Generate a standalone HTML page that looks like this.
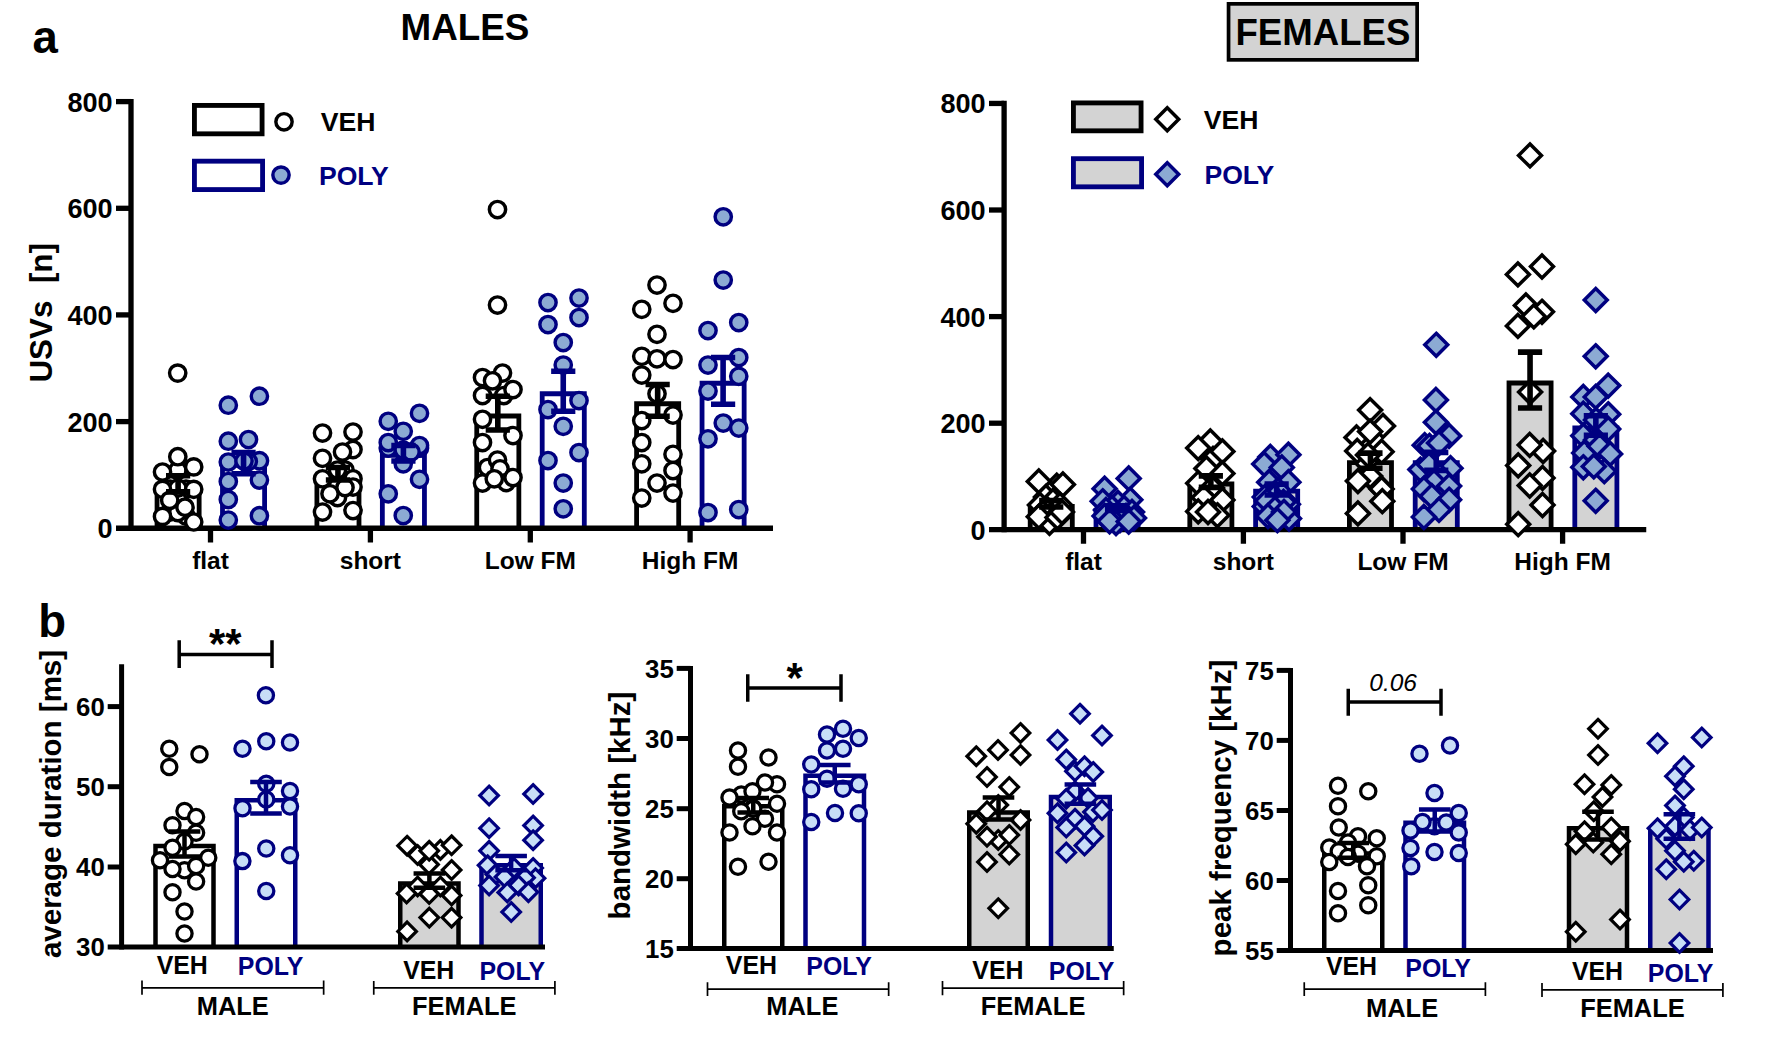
<!DOCTYPE html>
<html lang="en"><head><meta charset="utf-8"><title>USV figure</title>
<style>html,body{margin:0;padding:0;background:#fff;overflow:hidden}svg{display:block}text{font-family:"Liberation Sans", sans-serif}</style>
</head><body>
<svg width="1773" height="1045" viewBox="0 0 1773 1045">
<rect width="1773" height="1045" fill="#fff"/>
<g id="a-males">
<path d="M157.05 528.25 V486.2 H199.15 V528.25" fill="#fff" stroke="#000" stroke-width="4.8" stroke-linejoin="miter"/>
<path d="M222.5 528.25 V465.3 H264.6 V528.25" fill="#fff" stroke="#000080" stroke-width="4.8" stroke-linejoin="miter"/>
<path d="M316.9 528.25 V476.3 H359 V528.25" fill="#fff" stroke="#000" stroke-width="4.8" stroke-linejoin="miter"/>
<path d="M382.35 528.25 V455.3 H424.45 V528.25" fill="#fff" stroke="#000080" stroke-width="4.8" stroke-linejoin="miter"/>
<path d="M476.75 528.25 V416 H518.85 V528.25" fill="#fff" stroke="#000" stroke-width="4.8" stroke-linejoin="miter"/>
<path d="M542.2 528.25 V393.75 H584.3 V528.25" fill="#fff" stroke="#000080" stroke-width="4.8" stroke-linejoin="miter"/>
<path d="M636.6 528.25 V403.75 H678.7 V528.25" fill="#fff" stroke="#000" stroke-width="4.8" stroke-linejoin="miter"/>
<path d="M702.05 528.25 V383.25 H744.15 V528.25" fill="#fff" stroke="#000080" stroke-width="4.8" stroke-linejoin="miter"/>
<line x1="131" y1="98.95" x2="131" y2="530.9" stroke="#000" stroke-width="5.3"/>
<line x1="116" y1="528.25" x2="773" y2="528.25" stroke="#000" stroke-width="5.3"/>
<line x1="116" y1="101.6" x2="131" y2="101.6" stroke="#000" stroke-width="5.3"/>
<text x="112.7" y="111.6" font-size="27.1" fill="#000" text-anchor="end" font-weight="bold">800</text>
<line x1="116" y1="208.3" x2="131" y2="208.3" stroke="#000" stroke-width="5.3"/>
<text x="112.7" y="218.3" font-size="27.1" fill="#000" text-anchor="end" font-weight="bold">600</text>
<line x1="116" y1="314.9" x2="131" y2="314.9" stroke="#000" stroke-width="5.3"/>
<text x="112.7" y="324.9" font-size="27.1" fill="#000" text-anchor="end" font-weight="bold">400</text>
<line x1="116" y1="421.6" x2="131" y2="421.6" stroke="#000" stroke-width="5.3"/>
<text x="112.7" y="431.6" font-size="27.1" fill="#000" text-anchor="end" font-weight="bold">200</text>
<text x="112.7" y="538.25" font-size="27.1" fill="#000" text-anchor="end" font-weight="bold">0</text>
<line x1="210.5" y1="528.25" x2="210.5" y2="542.5" stroke="#000" stroke-width="5.3"/>
<text x="210.5" y="568.75" font-size="24.5" fill="#000" text-anchor="middle" font-weight="bold">flat</text>
<line x1="370.4" y1="528.25" x2="370.4" y2="542.5" stroke="#000" stroke-width="5.3"/>
<text x="370.4" y="568.75" font-size="24.5" fill="#000" text-anchor="middle" font-weight="bold">short</text>
<line x1="530.3" y1="528.25" x2="530.3" y2="542.5" stroke="#000" stroke-width="5.3"/>
<text x="530.3" y="568.75" font-size="24.5" fill="#000" text-anchor="middle" font-weight="bold">Low FM</text>
<line x1="690.1" y1="528.25" x2="690.1" y2="542.5" stroke="#000" stroke-width="5.3"/>
<text x="690.1" y="568.75" font-size="24.5" fill="#000" text-anchor="middle" font-weight="bold">High FM</text>
<g fill="#fff" stroke="#000" stroke-width="3.45">
<circle cx="170" cy="489" r="8.15"/>
<circle cx="186" cy="489" r="8.15"/>
<circle cx="178" cy="500" r="8.15"/>
<circle cx="170" cy="512" r="8.15"/>
<circle cx="186" cy="516" r="8.15"/>
<circle cx="177.8" cy="512.5" r="8.15"/>
<circle cx="162.5" cy="516.4" r="8.15"/>
<circle cx="177.8" cy="488" r="8.15"/>
<circle cx="162.5" cy="489.3" r="8.15"/>
<circle cx="193.7" cy="489.3" r="8.15"/>
<circle cx="177.8" cy="470.4" r="8.15"/>
<circle cx="162.5" cy="472" r="8.15"/>
<circle cx="193.7" cy="466.9" r="8.15"/>
<circle cx="177.8" cy="456.7" r="8.15"/>
<circle cx="169.7" cy="500.3" r="8.15"/>
<circle cx="185" cy="507.2" r="8.15"/>
<circle cx="193.7" cy="522" r="8.15"/>
<circle cx="177.7" cy="373.1" r="8.15"/>
</g>
<g fill="#8caad3" stroke="#000080" stroke-width="3.45">
<circle cx="228.3" cy="405.2" r="8.15"/>
<circle cx="259.4" cy="396.2" r="8.15"/>
<circle cx="228.3" cy="441.2" r="8.15"/>
<circle cx="248.5" cy="439.5" r="8.15"/>
<circle cx="259.5" cy="460.7" r="8.15"/>
<circle cx="228.3" cy="462" r="8.15"/>
<circle cx="248.3" cy="461.5" r="8.15"/>
<circle cx="228.3" cy="481.5" r="8.15"/>
<circle cx="259.4" cy="480" r="8.15"/>
<circle cx="228.3" cy="499.5" r="8.15"/>
<circle cx="259.4" cy="515.7" r="8.15"/>
<circle cx="228.3" cy="520" r="8.15"/>
<circle cx="244" cy="461" r="8.15"/>
</g>
<g fill="#fff" stroke="#000" stroke-width="3.45">
<circle cx="337.5" cy="478" r="8.15"/>
<circle cx="330" cy="481" r="8.15"/>
<circle cx="345" cy="470" r="8.15"/>
<circle cx="337.5" cy="486" r="8.15"/>
<circle cx="322.5" cy="433" r="8.15"/>
<circle cx="353" cy="432" r="8.15"/>
<circle cx="353" cy="449.5" r="8.15"/>
<circle cx="342.5" cy="452" r="8.15"/>
<circle cx="322.5" cy="458.25" r="8.15"/>
<circle cx="337.5" cy="470" r="8.15"/>
<circle cx="322.5" cy="478.75" r="8.15"/>
<circle cx="353" cy="478.75" r="8.15"/>
<circle cx="353" cy="487" r="8.15"/>
<circle cx="337.5" cy="497.5" r="8.15"/>
<circle cx="345" cy="487.5" r="8.15"/>
<circle cx="330" cy="493.75" r="8.15"/>
<circle cx="322.5" cy="512" r="8.15"/>
<circle cx="353" cy="510.5" r="8.15"/>
</g>
<g fill="#8caad3" stroke="#000080" stroke-width="3.45">
<circle cx="388.25" cy="421.25" r="8.15"/>
<circle cx="419.5" cy="413.25" r="8.15"/>
<circle cx="403.25" cy="431.25" r="8.15"/>
<circle cx="388.25" cy="448" r="8.15"/>
<circle cx="419.5" cy="448" r="8.15"/>
<circle cx="388.25" cy="442.5" r="8.15"/>
<circle cx="419.5" cy="445.5" r="8.15"/>
<circle cx="403.25" cy="463.75" r="8.15"/>
<circle cx="403.25" cy="450" r="8.15"/>
<circle cx="419.5" cy="479.25" r="8.15"/>
<circle cx="388.25" cy="493.75" r="8.15"/>
<circle cx="403.25" cy="515.5" r="8.15"/>
<circle cx="411" cy="452" r="8.15"/>
</g>
<g fill="#fff" stroke="#000" stroke-width="3.45">
<circle cx="497.5" cy="209.5" r="8.15"/>
<circle cx="497.5" cy="305" r="8.15"/>
<circle cx="482.5" cy="377.5" r="8.15"/>
<circle cx="502.5" cy="373" r="8.15"/>
<circle cx="492.5" cy="380.75" r="8.15"/>
<circle cx="503.75" cy="395.5" r="8.15"/>
<circle cx="513" cy="389.5" r="8.15"/>
<circle cx="482.5" cy="395.5" r="8.15"/>
<circle cx="482.5" cy="419.25" r="8.15"/>
<circle cx="513" cy="435.5" r="8.15"/>
<circle cx="482.5" cy="442.5" r="8.15"/>
<circle cx="487.5" cy="467.5" r="8.15"/>
<circle cx="497.5" cy="460" r="8.15"/>
<circle cx="500" cy="468.75" r="8.15"/>
<circle cx="506.25" cy="482.5" r="8.15"/>
<circle cx="482.5" cy="483" r="8.15"/>
<circle cx="513" cy="477.5" r="8.15"/>
<circle cx="494.25" cy="478.75" r="8.15"/>
</g>
<g fill="#8caad3" stroke="#000080" stroke-width="3.45">
<circle cx="548" cy="302.5" r="8.15"/>
<circle cx="579" cy="298" r="8.15"/>
<circle cx="548" cy="324.5" r="8.15"/>
<circle cx="579" cy="317.5" r="8.15"/>
<circle cx="563.25" cy="342.5" r="8.15"/>
<circle cx="563.25" cy="365" r="8.15"/>
<circle cx="579" cy="400.5" r="8.15"/>
<circle cx="548" cy="409.5" r="8.15"/>
<circle cx="563.25" cy="426.25" r="8.15"/>
<circle cx="579" cy="452.5" r="8.15"/>
<circle cx="548" cy="460.5" r="8.15"/>
<circle cx="563.25" cy="483" r="8.15"/>
<circle cx="563.25" cy="508.75" r="8.15"/>
</g>
<g fill="#fff" stroke="#000" stroke-width="3.45">
<circle cx="657" cy="285" r="8.15"/>
<circle cx="673" cy="303.25" r="8.15"/>
<circle cx="641.75" cy="309.25" r="8.15"/>
<circle cx="657" cy="334.25" r="8.15"/>
<circle cx="641.75" cy="356.25" r="8.15"/>
<circle cx="657" cy="358.75" r="8.15"/>
<circle cx="673" cy="359.5" r="8.15"/>
<circle cx="641.75" cy="375" r="8.15"/>
<circle cx="657" cy="393.75" r="8.15"/>
<circle cx="673" cy="415" r="8.15"/>
<circle cx="641.75" cy="420.5" r="8.15"/>
<circle cx="641.75" cy="442.5" r="8.15"/>
<circle cx="673" cy="454.25" r="8.15"/>
<circle cx="641.75" cy="463.75" r="8.15"/>
<circle cx="673" cy="470.5" r="8.15"/>
<circle cx="657" cy="483" r="8.15"/>
<circle cx="673" cy="493" r="8.15"/>
<circle cx="641.75" cy="498" r="8.15"/>
</g>
<g fill="#8caad3" stroke="#000080" stroke-width="3.45">
<circle cx="723.25" cy="216.75" r="8.15"/>
<circle cx="723.25" cy="280" r="8.15"/>
<circle cx="738.75" cy="322.5" r="8.15"/>
<circle cx="708" cy="330.5" r="8.15"/>
<circle cx="738.75" cy="357.5" r="8.15"/>
<circle cx="708" cy="365" r="8.15"/>
<circle cx="738.75" cy="376.25" r="8.15"/>
<circle cx="708" cy="391" r="8.15"/>
<circle cx="723.25" cy="423" r="8.15"/>
<circle cx="738.75" cy="428" r="8.15"/>
<circle cx="708" cy="438.75" r="8.15"/>
<circle cx="708" cy="512.5" r="8.15"/>
<circle cx="738.75" cy="509.5" r="8.15"/>
</g>
<path d="M178.1 475.8 V491.9 M166 475.8 H190.2 M166 491.9 H190.2" fill="none" stroke="#000" stroke-width="5.6"/>
<path d="M243.55 452.5 V473.75 M231.45 452.5 H255.65 M231.45 473.75 H255.65" fill="none" stroke="#000080" stroke-width="5.6"/>
<path d="M337.95 467.5 V480 M325.85 467.5 H350.05 M325.85 480 H350.05" fill="none" stroke="#000" stroke-width="5.6"/>
<path d="M403.4 445.5 V461 M391.3 445.5 H415.5 M391.3 461 H415.5" fill="none" stroke="#000080" stroke-width="5.6"/>
<path d="M497.8 396.25 V430 M485.7 396.25 H509.9 M485.7 430 H509.9" fill="none" stroke="#000" stroke-width="5.6"/>
<path d="M563.25 371.25 V411.25 M551.15 371.25 H575.35 M551.15 411.25 H575.35" fill="none" stroke="#000080" stroke-width="5.6"/>
<path d="M657.65 384.5 V416.25 M645.55 384.5 H669.75 M645.55 416.25 H669.75" fill="none" stroke="#000" stroke-width="5.6"/>
<path d="M723.1 357.5 V404.25 M711 357.5 H735.2 M711 404.25 H735.2" fill="none" stroke="#000080" stroke-width="5.6"/>
<rect x="194.43" y="105.42" width="67.65" height="28.4" fill="#fff" stroke="#000" stroke-width="4.85"/>
<g fill="#fff" stroke="#000" stroke-width="3.45">
<circle cx="284" cy="121.75" r="8.15"/>
</g>
<text x="320.8" y="130.5" font-size="26.6" fill="#000" text-anchor="start" font-weight="bold">VEH</text>
<rect x="194.43" y="161.18" width="68.15" height="28.4" fill="#fff" stroke="#000080" stroke-width="4.85"/>
<g fill="#8caad3" stroke="#000080" stroke-width="3.45">
<circle cx="281" cy="175.1" r="8.15"/>
</g>
<text x="318.9" y="184.5" font-size="26.6" fill="#000080" text-anchor="start" font-weight="bold">POLY</text>
</g>
<g id="a-females">
<path d="M1030.2 529.6 V506.3 H1072.3 V529.6" fill="#d3d3d3" stroke="#000" stroke-width="4.8" stroke-linejoin="miter"/>
<path d="M1096 529.6 V510.5 H1138.1 V529.6" fill="#d3d3d3" stroke="#000080" stroke-width="4.8" stroke-linejoin="miter"/>
<path d="M1189.8 529.6 V484 H1231.9 V529.6" fill="#d3d3d3" stroke="#000" stroke-width="4.8" stroke-linejoin="miter"/>
<path d="M1255.6 529.6 V491.2 H1297.7 V529.6" fill="#d3d3d3" stroke="#000080" stroke-width="4.8" stroke-linejoin="miter"/>
<path d="M1349.4 529.6 V462.7 H1391.5 V529.6" fill="#d3d3d3" stroke="#000" stroke-width="4.8" stroke-linejoin="miter"/>
<path d="M1415.2 529.6 V462.7 H1457.3 V529.6" fill="#d3d3d3" stroke="#000080" stroke-width="4.8" stroke-linejoin="miter"/>
<path d="M1509 529.6 V383 H1551.1 V529.6" fill="#d3d3d3" stroke="#000" stroke-width="4.8" stroke-linejoin="miter"/>
<path d="M1574.8 529.6 V428 H1616.9 V529.6" fill="#d3d3d3" stroke="#000080" stroke-width="4.8" stroke-linejoin="miter"/>
<line x1="1004.1" y1="100.8" x2="1004.1" y2="532.25" stroke="#000" stroke-width="5.3"/>
<line x1="989" y1="529.6" x2="1646.25" y2="529.6" stroke="#000" stroke-width="5.3"/>
<line x1="989" y1="103.45" x2="1004.1" y2="103.45" stroke="#000" stroke-width="5.3"/>
<text x="985.7" y="113.45" font-size="27.1" fill="#000" text-anchor="end" font-weight="bold">800</text>
<line x1="989" y1="210" x2="1004.1" y2="210" stroke="#000" stroke-width="5.3"/>
<text x="985.7" y="220" font-size="27.1" fill="#000" text-anchor="end" font-weight="bold">600</text>
<line x1="989" y1="316.6" x2="1004.1" y2="316.6" stroke="#000" stroke-width="5.3"/>
<text x="985.7" y="326.6" font-size="27.1" fill="#000" text-anchor="end" font-weight="bold">400</text>
<line x1="989" y1="423.2" x2="1004.1" y2="423.2" stroke="#000" stroke-width="5.3"/>
<text x="985.7" y="433.2" font-size="27.1" fill="#000" text-anchor="end" font-weight="bold">200</text>
<text x="985.7" y="539.75" font-size="27.1" fill="#000" text-anchor="end" font-weight="bold">0</text>
<line x1="1083.5" y1="529.6" x2="1083.5" y2="543.75" stroke="#000" stroke-width="5.3"/>
<text x="1083.5" y="570" font-size="24.5" fill="#000" text-anchor="middle" font-weight="bold">flat</text>
<line x1="1243.4" y1="529.6" x2="1243.4" y2="543.75" stroke="#000" stroke-width="5.3"/>
<text x="1243.4" y="570" font-size="24.5" fill="#000" text-anchor="middle" font-weight="bold">short</text>
<line x1="1403" y1="529.6" x2="1403" y2="543.75" stroke="#000" stroke-width="5.3"/>
<text x="1403" y="570" font-size="24.5" fill="#000" text-anchor="middle" font-weight="bold">Low FM</text>
<line x1="1562.6" y1="529.6" x2="1562.6" y2="543.75" stroke="#000" stroke-width="5.3"/>
<text x="1562.6" y="570" font-size="24.5" fill="#000" text-anchor="middle" font-weight="bold">High FM</text>
<g fill="#fff" stroke="#000" stroke-width="3.5" stroke-linejoin="miter">
<path d="M1056.75 474.2 l11.45 11.45 l-11.45 11.45 l-11.45 -11.45 z"/>
<path d="M1038.8 469.95 l11.45 11.45 l-11.45 11.45 l-11.45 -11.45 z"/>
<path d="M1062.9 473.05 l11.45 11.45 l-11.45 11.45 l-11.45 -11.45 z"/>
<path d="M1046 485.55 l11.45 11.45 l-11.45 11.45 l-11.45 -11.45 z"/>
<path d="M1053 489.55 l11.45 11.45 l-11.45 11.45 l-11.45 -11.45 z"/>
<path d="M1040 493.55 l11.45 11.45 l-11.45 11.45 l-11.45 -11.45 z"/>
<path d="M1060 493.55 l11.45 11.45 l-11.45 11.45 l-11.45 -11.45 z"/>
<path d="M1047 497.55 l11.45 11.45 l-11.45 11.45 l-11.45 -11.45 z"/>
<path d="M1055 499.55 l11.45 11.45 l-11.45 11.45 l-11.45 -11.45 z"/>
<path d="M1043 501.55 l11.45 11.45 l-11.45 11.45 l-11.45 -11.45 z"/>
<path d="M1049.5 511.35 l11.45 11.45 l-11.45 11.45 l-11.45 -11.45 z"/>
<path d="M1038.8 505.25 l11.45 11.45 l-11.45 11.45 l-11.45 -11.45 z"/>
<path d="M1057.5 505.95 l11.45 11.45 l-11.45 11.45 l-11.45 -11.45 z"/>
<path d="M1062 500.55 l11.45 11.45 l-11.45 11.45 l-11.45 -11.45 z"/>
</g>
<g fill="#8caad3" stroke="#000080" stroke-width="3.5" stroke-linejoin="miter">
<path d="M1128.7 466.95 l11.45 11.45 l-11.45 11.45 l-11.45 -11.45 z"/>
<path d="M1104.6 477.25 l11.45 11.45 l-11.45 11.45 l-11.45 -11.45 z"/>
<path d="M1130.3 488.35 l11.45 11.45 l-11.45 11.45 l-11.45 -11.45 z"/>
<path d="M1102.7 489.85 l11.45 11.45 l-11.45 11.45 l-11.45 -11.45 z"/>
<path d="M1118 491.55 l11.45 11.45 l-11.45 11.45 l-11.45 -11.45 z"/>
<path d="M1112 496.55 l11.45 11.45 l-11.45 11.45 l-11.45 -11.45 z"/>
<path d="M1124 496.55 l11.45 11.45 l-11.45 11.45 l-11.45 -11.45 z"/>
<path d="M1106 498.55 l11.45 11.45 l-11.45 11.45 l-11.45 -11.45 z"/>
<path d="M1118 502.55 l11.45 11.45 l-11.45 11.45 l-11.45 -11.45 z"/>
<path d="M1132 500.55 l11.45 11.45 l-11.45 11.45 l-11.45 -11.45 z"/>
<path d="M1126 504.55 l11.45 11.45 l-11.45 11.45 l-11.45 -11.45 z"/>
<path d="M1112 505.55 l11.45 11.45 l-11.45 11.45 l-11.45 -11.45 z"/>
<path d="M1104.6 504.55 l11.45 11.45 l-11.45 11.45 l-11.45 -11.45 z"/>
<path d="M1120 508.55 l11.45 11.45 l-11.45 11.45 l-11.45 -11.45 z"/>
<path d="M1134 506.55 l11.45 11.45 l-11.45 11.45 l-11.45 -11.45 z"/>
<path d="M1116 511.55 l11.45 11.45 l-11.45 11.45 l-11.45 -11.45 z"/>
<path d="M1109.6 509.85 l11.45 11.45 l-11.45 11.45 l-11.45 -11.45 z"/>
<path d="M1128.7 510.05 l11.45 11.45 l-11.45 11.45 l-11.45 -11.45 z"/>
</g>
<g fill="#fff" stroke="#000" stroke-width="3.5" stroke-linejoin="miter">
<path d="M1210.3 430.05 l11.45 11.45 l-11.45 11.45 l-11.45 -11.45 z"/>
<path d="M1198.2 436.65 l11.45 11.45 l-11.45 11.45 l-11.45 -11.45 z"/>
<path d="M1213 447.55 l11.45 11.45 l-11.45 11.45 l-11.45 -11.45 z"/>
<path d="M1222.4 439.95 l11.45 11.45 l-11.45 11.45 l-11.45 -11.45 z"/>
<path d="M1206.4 457.05 l11.45 11.45 l-11.45 11.45 l-11.45 -11.45 z"/>
<path d="M1222.4 461.95 l11.45 11.45 l-11.45 11.45 l-11.45 -11.45 z"/>
<path d="M1198.2 471.85 l11.45 11.45 l-11.45 11.45 l-11.45 -11.45 z"/>
<path d="M1212 476.55 l11.45 11.45 l-11.45 11.45 l-11.45 -11.45 z"/>
<path d="M1212 494.55 l11.45 11.45 l-11.45 11.45 l-11.45 -11.45 z"/>
<path d="M1203.7 486.15 l11.45 11.45 l-11.45 11.45 l-11.45 -11.45 z"/>
<path d="M1222.4 488.45 l11.45 11.45 l-11.45 11.45 l-11.45 -11.45 z"/>
<path d="M1198.2 499.95 l11.45 11.45 l-11.45 11.45 l-11.45 -11.45 z"/>
<path d="M1217.4 503.85 l11.45 11.45 l-11.45 11.45 l-11.45 -11.45 z"/>
<path d="M1208 500.55 l11.45 11.45 l-11.45 11.45 l-11.45 -11.45 z"/>
</g>
<g fill="#8caad3" stroke="#000080" stroke-width="3.5" stroke-linejoin="miter">
<path d="M1270.3 445.45 l11.45 11.45 l-11.45 11.45 l-11.45 -11.45 z"/>
<path d="M1288.4 443.25 l11.45 11.45 l-11.45 11.45 l-11.45 -11.45 z"/>
<path d="M1264.2 452.65 l11.45 11.45 l-11.45 11.45 l-11.45 -11.45 z"/>
<path d="M1281.8 455.95 l11.45 11.45 l-11.45 11.45 l-11.45 -11.45 z"/>
<path d="M1288.4 470.75 l11.45 11.45 l-11.45 11.45 l-11.45 -11.45 z"/>
<path d="M1269.2 470.75 l11.45 11.45 l-11.45 11.45 l-11.45 -11.45 z"/>
<path d="M1278 478.55 l11.45 11.45 l-11.45 11.45 l-11.45 -11.45 z"/>
<path d="M1264.8 485.65 l11.45 11.45 l-11.45 11.45 l-11.45 -11.45 z"/>
<path d="M1287.9 492.85 l11.45 11.45 l-11.45 11.45 l-11.45 -11.45 z"/>
<path d="M1264.8 495.05 l11.45 11.45 l-11.45 11.45 l-11.45 -11.45 z"/>
<path d="M1274 485.55 l11.45 11.45 l-11.45 11.45 l-11.45 -11.45 z"/>
<path d="M1267 489.55 l11.45 11.45 l-11.45 11.45 l-11.45 -11.45 z"/>
<path d="M1283.5 490.55 l11.45 11.45 l-11.45 11.45 l-11.45 -11.45 z"/>
<path d="M1275 497.55 l11.45 11.45 l-11.45 11.45 l-11.45 -11.45 z"/>
<path d="M1289 507.15 l11.45 11.45 l-11.45 11.45 l-11.45 -11.45 z"/>
<path d="M1268 504.55 l11.45 11.45 l-11.45 11.45 l-11.45 -11.45 z"/>
<path d="M1284 500.55 l11.45 11.45 l-11.45 11.45 l-11.45 -11.45 z"/>
<path d="M1277.4 508.75 l11.45 11.45 l-11.45 11.45 l-11.45 -11.45 z"/>
</g>
<g fill="#fff" stroke="#000" stroke-width="3.5" stroke-linejoin="miter">
<path d="M1366 450.55 l11.45 11.45 l-11.45 11.45 l-11.45 -11.45 z"/>
<path d="M1370.1 398.65 l11.45 11.45 l-11.45 11.45 l-11.45 -11.45 z"/>
<path d="M1383 414.45 l11.45 11.45 l-11.45 11.45 l-11.45 -11.45 z"/>
<path d="M1356.5 425.95 l11.45 11.45 l-11.45 11.45 l-11.45 -11.45 z"/>
<path d="M1370.1 420.15 l11.45 11.45 l-11.45 11.45 l-11.45 -11.45 z"/>
<path d="M1357.2 439.55 l11.45 11.45 l-11.45 11.45 l-11.45 -11.45 z"/>
<path d="M1381.6 440.25 l11.45 11.45 l-11.45 11.45 l-11.45 -11.45 z"/>
<path d="M1368 443.55 l11.45 11.45 l-11.45 11.45 l-11.45 -11.45 z"/>
<path d="M1376 471.55 l11.45 11.45 l-11.45 11.45 l-11.45 -11.45 z"/>
<path d="M1370.1 464.65 l11.45 11.45 l-11.45 11.45 l-11.45 -11.45 z"/>
<path d="M1357.9 469.65 l11.45 11.45 l-11.45 11.45 l-11.45 -11.45 z"/>
<path d="M1381.6 477.55 l11.45 11.45 l-11.45 11.45 l-11.45 -11.45 z"/>
<path d="M1382.3 489.75 l11.45 11.45 l-11.45 11.45 l-11.45 -11.45 z"/>
<path d="M1357.9 501.95 l11.45 11.45 l-11.45 11.45 l-11.45 -11.45 z"/>
</g>
<g fill="#8caad3" stroke="#000080" stroke-width="3.5" stroke-linejoin="miter">
<path d="M1436.25 333.35 l11.45 11.45 l-11.45 11.45 l-11.45 -11.45 z"/>
<path d="M1435.9 388.55 l11.45 11.45 l-11.45 11.45 l-11.45 -11.45 z"/>
<path d="M1435.9 410.85 l11.45 11.45 l-11.45 11.45 l-11.45 -11.45 z"/>
<path d="M1449.1 424.45 l11.45 11.45 l-11.45 11.45 l-11.45 -11.45 z"/>
<path d="M1424.7 433.75 l11.45 11.45 l-11.45 11.45 l-11.45 -11.45 z"/>
<path d="M1429.5 434.55 l11.45 11.45 l-11.45 11.45 l-11.45 -11.45 z"/>
<path d="M1439 431.65 l11.45 11.45 l-11.45 11.45 l-11.45 -11.45 z"/>
<path d="M1420.4 458.15 l11.45 11.45 l-11.45 11.45 l-11.45 -11.45 z"/>
<path d="M1429 453.15 l11.45 11.45 l-11.45 11.45 l-11.45 -11.45 z"/>
<path d="M1450.5 456.75 l11.45 11.45 l-11.45 11.45 l-11.45 -11.45 z"/>
<path d="M1440 464.55 l11.45 11.45 l-11.45 11.45 l-11.45 -11.45 z"/>
<path d="M1434 470.55 l11.45 11.45 l-11.45 11.45 l-11.45 -11.45 z"/>
<path d="M1423.9 477.55 l11.45 11.45 l-11.45 11.45 l-11.45 -11.45 z"/>
<path d="M1449.1 474.65 l11.45 11.45 l-11.45 11.45 l-11.45 -11.45 z"/>
<path d="M1431.8 484.75 l11.45 11.45 l-11.45 11.45 l-11.45 -11.45 z"/>
<path d="M1449.1 488.35 l11.45 11.45 l-11.45 11.45 l-11.45 -11.45 z"/>
<path d="M1439 498.35 l11.45 11.45 l-11.45 11.45 l-11.45 -11.45 z"/>
<path d="M1423.9 505.55 l11.45 11.45 l-11.45 11.45 l-11.45 -11.45 z"/>
</g>
<g fill="#fff" stroke="#000" stroke-width="3.5" stroke-linejoin="miter">
<path d="M1530 143.95 l11.45 11.45 l-11.45 11.45 l-11.45 -11.45 z"/>
<path d="M1542 255.05 l11.45 11.45 l-11.45 11.45 l-11.45 -11.45 z"/>
<path d="M1517.9 262.95 l11.45 11.45 l-11.45 11.45 l-11.45 -11.45 z"/>
<path d="M1525.9 294.05 l11.45 11.45 l-11.45 11.45 l-11.45 -11.45 z"/>
<path d="M1542 300.35 l11.45 11.45 l-11.45 11.45 l-11.45 -11.45 z"/>
<path d="M1517.9 314.45 l11.45 11.45 l-11.45 11.45 l-11.45 -11.45 z"/>
<path d="M1533.8 304.95 l11.45 11.45 l-11.45 11.45 l-11.45 -11.45 z"/>
<path d="M1530.1 380.65 l11.45 11.45 l-11.45 11.45 l-11.45 -11.45 z"/>
<path d="M1543.1 439.55 l11.45 11.45 l-11.45 11.45 l-11.45 -11.45 z"/>
<path d="M1529.7 433.45 l11.45 11.45 l-11.45 11.45 l-11.45 -11.45 z"/>
<path d="M1518.2 453.95 l11.45 11.45 l-11.45 11.45 l-11.45 -11.45 z"/>
<path d="M1542.5 466.45 l11.45 11.45 l-11.45 11.45 l-11.45 -11.45 z"/>
<path d="M1529.7 474.05 l11.45 11.45 l-11.45 11.45 l-11.45 -11.45 z"/>
<path d="M1542.5 493.55 l11.45 11.45 l-11.45 11.45 l-11.45 -11.45 z"/>
<path d="M1518.2 512.75 l11.45 11.45 l-11.45 11.45 l-11.45 -11.45 z"/>
</g>
<g fill="#8caad3" stroke="#000080" stroke-width="3.5" stroke-linejoin="miter">
<path d="M1595.75 288.55 l11.45 11.45 l-11.45 11.45 l-11.45 -11.45 z"/>
<path d="M1595.7 344.85 l11.45 11.45 l-11.45 11.45 l-11.45 -11.45 z"/>
<path d="M1608.2 374.15 l11.45 11.45 l-11.45 11.45 l-11.45 -11.45 z"/>
<path d="M1583.3 385.45 l11.45 11.45 l-11.45 11.45 l-11.45 -11.45 z"/>
<path d="M1595.7 385.45 l11.45 11.45 l-11.45 11.45 l-11.45 -11.45 z"/>
<path d="M1583.3 402.25 l11.45 11.45 l-11.45 11.45 l-11.45 -11.45 z"/>
<path d="M1608.2 402.85 l11.45 11.45 l-11.45 11.45 l-11.45 -11.45 z"/>
<path d="M1596 408.55 l11.45 11.45 l-11.45 11.45 l-11.45 -11.45 z"/>
<path d="M1608.2 417.55 l11.45 11.45 l-11.45 11.45 l-11.45 -11.45 z"/>
<path d="M1583.3 424.25 l11.45 11.45 l-11.45 11.45 l-11.45 -11.45 z"/>
<path d="M1596 428.55 l11.45 11.45 l-11.45 11.45 l-11.45 -11.45 z"/>
<path d="M1584.2 441.55 l11.45 11.45 l-11.45 11.45 l-11.45 -11.45 z"/>
<path d="M1599.6 434.85 l11.45 11.45 l-11.45 11.45 l-11.45 -11.45 z"/>
<path d="M1610.1 442.45 l11.45 11.45 l-11.45 11.45 l-11.45 -11.45 z"/>
<path d="M1583.3 455.85 l11.45 11.45 l-11.45 11.45 l-11.45 -11.45 z"/>
<path d="M1604.3 459.75 l11.45 11.45 l-11.45 11.45 l-11.45 -11.45 z"/>
<path d="M1593.8 454.95 l11.45 11.45 l-11.45 11.45 l-11.45 -11.45 z"/>
<path d="M1595.7 489.35 l11.45 11.45 l-11.45 11.45 l-11.45 -11.45 z"/>
</g>
<path d="M1051.25 500.6 V507 M1039.15 500.6 H1063.35 M1039.15 507 H1063.35" fill="none" stroke="#000" stroke-width="5.6"/>
<path d="M1117.05 505.9 V510.5 M1104.95 505.9 H1129.15 M1104.95 510.5 H1129.15" fill="none" stroke="#000080" stroke-width="5.6"/>
<path d="M1210.85 475.9 V487.4 M1198.75 475.9 H1222.95 M1198.75 487.4 H1222.95" fill="none" stroke="#000" stroke-width="5.6"/>
<path d="M1276.65 484.1 V495 M1264.55 484.1 H1288.75 M1264.55 495 H1288.75" fill="none" stroke="#000080" stroke-width="5.6"/>
<path d="M1370.45 453.1 V468.2 M1358.35 453.1 H1382.55 M1358.35 468.2 H1382.55" fill="none" stroke="#000" stroke-width="5.6"/>
<path d="M1436.25 452.4 V470.4 M1424.15 452.4 H1448.35 M1424.15 470.4 H1448.35" fill="none" stroke="#000080" stroke-width="5.6"/>
<path d="M1530.05 352.1 V408 M1517.95 352.1 H1542.15 M1517.95 408 H1542.15" fill="none" stroke="#000" stroke-width="5.6"/>
<path d="M1595.85 415.8 V435.2 M1583.75 415.8 H1607.95 M1583.75 435.2 H1607.95" fill="none" stroke="#000080" stroke-width="5.6"/>
<rect x="1073.42" y="102.92" width="67.65" height="27.9" fill="#d3d3d3" stroke="#000" stroke-width="4.85"/>
<g fill="#fff" stroke="#000" stroke-width="3.5" stroke-linejoin="miter">
<path d="M1167.25 107.8 l11.45 11.45 l-11.45 11.45 l-11.45 -11.45 z"/>
</g>
<text x="1203.8" y="128.75" font-size="26.6" fill="#000" text-anchor="start" font-weight="bold">VEH</text>
<rect x="1073.42" y="158.68" width="68.15" height="28.15" fill="#d3d3d3" stroke="#000080" stroke-width="4.85"/>
<g fill="#8caad3" stroke="#000080" stroke-width="3.5" stroke-linejoin="miter">
<path d="M1167.25 162.8 l11.45 11.45 l-11.45 11.45 l-11.45 -11.45 z"/>
</g>
<text x="1204.4" y="183.75" font-size="26.6" fill="#000080" text-anchor="start" font-weight="bold">POLY</text>
</g>
<text x="464.9" y="39.8" font-size="36.8" fill="#000" text-anchor="middle" font-weight="bold">MALES</text>
<rect x="1228.55" y="3.85" width="188.6" height="56" fill="#d3d3d3" stroke="#000" stroke-width="3.7"/>
<text x="1322.9" y="45" font-size="36.6" fill="#000" text-anchor="middle" font-weight="bold">FEMALES</text>
<text x="32.45" y="53.1" font-size="45.5" fill="#000" text-anchor="start" font-weight="bold">a</text>
<text x="38.3" y="636.5" font-size="45.5" fill="#000" text-anchor="start" font-weight="bold">b</text>
<text x="52.3" y="312.8" font-size="31.4" fill="#000" text-anchor="middle" font-weight="bold" transform="rotate(-90 52.3 312.8)" xml:space="preserve" style="white-space:pre">USVs  [n]</text>
<g id="b1">
<path d="M155.5 947 V846 H213.5 V947" fill="#fff" stroke="#000" stroke-width="4.5" stroke-linejoin="miter"/>
<path d="M236.75 947 V800.25 H295.25 V947" fill="#fff" stroke="#000080" stroke-width="4.5" stroke-linejoin="miter"/>
<path d="M400.25 947 V883.5 H458.5 V947" fill="#d3d3d3" stroke="#000" stroke-width="4.5" stroke-linejoin="miter"/>
<path d="M481.5 947 V865.25 H540.75 V947" fill="#d3d3d3" stroke="#000080" stroke-width="4.5" stroke-linejoin="miter"/>
<line x1="121.6" y1="664.25" x2="121.6" y2="949.5" stroke="#000" stroke-width="5"/>
<line x1="107.7" y1="947" x2="545" y2="947" stroke="#000" stroke-width="5"/>
<line x1="107.7" y1="706.6" x2="121.6" y2="706.6" stroke="#000" stroke-width="5"/>
<text x="104.8" y="716.05" font-size="25.8" fill="#000" text-anchor="end" font-weight="bold">60</text>
<line x1="107.7" y1="786.7" x2="121.6" y2="786.7" stroke="#000" stroke-width="5"/>
<text x="104.8" y="796.15" font-size="25.8" fill="#000" text-anchor="end" font-weight="bold">50</text>
<line x1="107.7" y1="867" x2="121.6" y2="867" stroke="#000" stroke-width="5"/>
<text x="104.8" y="876.45" font-size="25.8" fill="#000" text-anchor="end" font-weight="bold">40</text>
<text x="104.8" y="956.45" font-size="25.8" fill="#000" text-anchor="end" font-weight="bold">30</text>
<g fill="#fff" stroke="#000" stroke-width="3.3">
<circle cx="169.25" cy="748.75" r="7.6"/>
<circle cx="199.5" cy="754.25" r="7.6"/>
<circle cx="169.25" cy="767" r="7.6"/>
<circle cx="184.5" cy="811" r="7.6"/>
<circle cx="196.1" cy="817" r="7.6"/>
<circle cx="172.5" cy="825.25" r="7.6"/>
<circle cx="196.1" cy="832.75" r="7.6"/>
<circle cx="184.5" cy="841.5" r="7.6"/>
<circle cx="172.5" cy="847.75" r="7.6"/>
<circle cx="160" cy="860.25" r="7.6"/>
<circle cx="208.25" cy="857.75" r="7.6"/>
<circle cx="184.5" cy="870.25" r="7.6"/>
<circle cx="196.1" cy="866" r="7.6"/>
<circle cx="172.5" cy="869" r="7.6"/>
<circle cx="196.1" cy="881.5" r="7.6"/>
<circle cx="172.5" cy="892.25" r="7.6"/>
<circle cx="184.5" cy="911.5" r="7.6"/>
<circle cx="184.5" cy="933.5" r="7.6"/>
</g>
<g fill="#c8def7" stroke="#000080" stroke-width="3.3">
<circle cx="265.9" cy="695.2" r="7.6"/>
<circle cx="266.25" cy="741.25" r="7.6"/>
<circle cx="290" cy="742.5" r="7.6"/>
<circle cx="242.5" cy="748.75" r="7.6"/>
<circle cx="266.25" cy="783.75" r="7.6"/>
<circle cx="290" cy="791" r="7.6"/>
<circle cx="266.25" cy="799.5" r="7.6"/>
<circle cx="242.5" cy="808.25" r="7.6"/>
<circle cx="290" cy="806.5" r="7.6"/>
<circle cx="266.25" cy="848.5" r="7.6"/>
<circle cx="290" cy="855.25" r="7.6"/>
<circle cx="242.4" cy="861.1" r="7.6"/>
<circle cx="266.25" cy="891" r="7.6"/>
</g>
<g fill="#fff" stroke="#000" stroke-width="3.2" stroke-linejoin="miter">
<path d="M429 855.2 l9.3 9.3 l-9.3 9.3 l-9.3 -9.3 z"/>
<path d="M417.6 845.7 l9.3 9.3 l-9.3 9.3 l-9.3 -9.3 z"/>
<path d="M440.4 840.6 l9.3 9.3 l-9.3 9.3 l-9.3 -9.3 z"/>
<path d="M407.1 836.4 l9.3 9.3 l-9.3 9.3 l-9.3 -9.3 z"/>
<path d="M429.2 841.5 l9.3 9.3 l-9.3 9.3 l-9.3 -9.3 z"/>
<path d="M451.6 836 l9.3 9.3 l-9.3 9.3 l-9.3 -9.3 z"/>
<path d="M451.6 860.7 l9.3 9.3 l-9.3 9.3 l-9.3 -9.3 z"/>
<path d="M417.6 877.2 l9.3 9.3 l-9.3 9.3 l-9.3 -9.3 z"/>
<path d="M440.4 877.2 l9.3 9.3 l-9.3 9.3 l-9.3 -9.3 z"/>
<path d="M406.6 884.2 l9.3 9.3 l-9.3 9.3 l-9.3 -9.3 z"/>
<path d="M429.2 884.7 l9.3 9.3 l-9.3 9.3 l-9.3 -9.3 z"/>
<path d="M451.6 886.2 l9.3 9.3 l-9.3 9.3 l-9.3 -9.3 z"/>
<path d="M429.3 908.3 l9.3 9.3 l-9.3 9.3 l-9.3 -9.3 z"/>
<path d="M451.6 908.3 l9.3 9.3 l-9.3 9.3 l-9.3 -9.3 z"/>
<path d="M407.1 922.1 l9.3 9.3 l-9.3 9.3 l-9.3 -9.3 z"/>
</g>
<g fill="#c8def7" stroke="#000080" stroke-width="3.2" stroke-linejoin="miter">
<path d="M489.1 786.2 l9.3 9.3 l-9.3 9.3 l-9.3 -9.3 z"/>
<path d="M533.1 784.7 l9.3 9.3 l-9.3 9.3 l-9.3 -9.3 z"/>
<path d="M489.1 818.9 l9.3 9.3 l-9.3 9.3 l-9.3 -9.3 z"/>
<path d="M533.1 816.2 l9.3 9.3 l-9.3 9.3 l-9.3 -9.3 z"/>
<path d="M533.1 830.9 l9.3 9.3 l-9.3 9.3 l-9.3 -9.3 z"/>
<path d="M489.1 841.5 l9.3 9.3 l-9.3 9.3 l-9.3 -9.3 z"/>
<path d="M487.6 856 l9.3 9.3 l-9.3 9.3 l-9.3 -9.3 z"/>
<path d="M533.1 858.7 l9.3 9.3 l-9.3 9.3 l-9.3 -9.3 z"/>
<path d="M514 858.7 l9.3 9.3 l-9.3 9.3 l-9.3 -9.3 z"/>
<path d="M535.5 868.9 l9.3 9.3 l-9.3 9.3 l-9.3 -9.3 z"/>
<path d="M495.5 865.3 l9.3 9.3 l-9.3 9.3 l-9.3 -9.3 z"/>
<path d="M504.5 867.7 l9.3 9.3 l-9.3 9.3 l-9.3 -9.3 z"/>
<path d="M525 868.4 l9.3 9.3 l-9.3 9.3 l-9.3 -9.3 z"/>
<path d="M489.1 876.2 l9.3 9.3 l-9.3 9.3 l-9.3 -9.3 z"/>
<path d="M518.6 876.2 l9.3 9.3 l-9.3 9.3 l-9.3 -9.3 z"/>
<path d="M507.3 883.2 l9.3 9.3 l-9.3 9.3 l-9.3 -9.3 z"/>
<path d="M528.4 882.8 l9.3 9.3 l-9.3 9.3 l-9.3 -9.3 z"/>
<path d="M511.2 902.7 l9.3 9.3 l-9.3 9.3 l-9.3 -9.3 z"/>
</g>
<path d="M184.5 831.5 V856.5 M168.7 831.5 H200.3 M168.7 856.5 H200.3" fill="none" stroke="#000" stroke-width="4.5"/>
<path d="M266 782 V813.4 M250.2 782 H281.8 M250.2 813.4 H281.8" fill="none" stroke="#000080" stroke-width="4.5"/>
<path d="M429.38 873.5 V887.75 M413.57 873.5 H445.18 M413.57 887.75 H445.18" fill="none" stroke="#000" stroke-width="4.5"/>
<path d="M511.12 856 V870.25 M495.32 856 H526.92 M495.32 870.25 H526.92" fill="none" stroke="#000080" stroke-width="4.5"/>
<text x="182.25" y="974" font-size="24.9" fill="#000" text-anchor="middle" font-weight="bold">VEH</text>
<text x="270.6" y="974.5" font-size="24.9" fill="#000080" text-anchor="middle" font-weight="bold">POLY</text>
<text x="428.75" y="979" font-size="24.9" fill="#000" text-anchor="middle" font-weight="bold">VEH</text>
<text x="512.25" y="979.5" font-size="24.9" fill="#000080" text-anchor="middle" font-weight="bold">POLY</text>
<path d="M142 980.5 V994.65 M323.65 980.5 V994.65 M142 987.9 H323.65" fill="none" stroke="#000" stroke-width="1.7"/>
<text x="232.82" y="1014.5" font-size="25.45" fill="#000" text-anchor="middle" font-weight="bold">MALE</text>
<path d="M373.75 981 V994.65 M554.9 981 V994.65 M373.75 987.9 H554.9" fill="none" stroke="#000" stroke-width="1.7"/>
<text x="464.32" y="1014.5" font-size="25.45" fill="#000" text-anchor="middle" font-weight="bold">FEMALE</text>
<path d="M179.2 640.3 V668 M272 640.3 V668 M179.2 654.4 H272" fill="none" stroke="#000" stroke-width="3.5"/>
<text x="225.2" y="657.5" font-size="41.7" fill="#000" text-anchor="middle" font-weight="bold">**</text>
<text x="61.25" y="804" font-size="29.5" fill="#000" text-anchor="middle" font-weight="bold" transform="rotate(-90 61.25 804)">average duration [ms]</text>
</g>
<g id="b2">
<path d="M724.25 948.6 V806.25 H782.25 V948.6" fill="#fff" stroke="#000" stroke-width="4.5" stroke-linejoin="miter"/>
<path d="M805.5 948.6 V775.75 H864 V948.6" fill="#fff" stroke="#000080" stroke-width="4.5" stroke-linejoin="miter"/>
<path d="M969.25 948.6 V812.5 H1027.75 V948.6" fill="#d3d3d3" stroke="#000" stroke-width="4.5" stroke-linejoin="miter"/>
<path d="M1051 948.6 V797 H1109.75 V948.6" fill="#d3d3d3" stroke="#000080" stroke-width="4.5" stroke-linejoin="miter"/>
<line x1="690.5" y1="665.9" x2="690.5" y2="951.1" stroke="#000" stroke-width="5"/>
<line x1="676.7" y1="948.6" x2="1113.75" y2="948.6" stroke="#000" stroke-width="5"/>
<line x1="676.7" y1="668.4" x2="690.5" y2="668.4" stroke="#000" stroke-width="5"/>
<text x="673.8" y="677.85" font-size="25.8" fill="#000" text-anchor="end" font-weight="bold">35</text>
<line x1="676.7" y1="738.5" x2="690.5" y2="738.5" stroke="#000" stroke-width="5"/>
<text x="673.8" y="747.95" font-size="25.8" fill="#000" text-anchor="end" font-weight="bold">30</text>
<line x1="676.7" y1="808.7" x2="690.5" y2="808.7" stroke="#000" stroke-width="5"/>
<text x="673.8" y="818.15" font-size="25.8" fill="#000" text-anchor="end" font-weight="bold">25</text>
<line x1="676.7" y1="878.7" x2="690.5" y2="878.7" stroke="#000" stroke-width="5"/>
<text x="673.8" y="888.15" font-size="25.8" fill="#000" text-anchor="end" font-weight="bold">20</text>
<text x="673.8" y="958.05" font-size="25.8" fill="#000" text-anchor="end" font-weight="bold">15</text>
<g fill="#fff" stroke="#000" stroke-width="3.3">
<circle cx="753" cy="808" r="7.6"/>
<circle cx="738" cy="750.5" r="7.6"/>
<circle cx="768.5" cy="757.5" r="7.6"/>
<circle cx="738" cy="766.75" r="7.6"/>
<circle cx="777" cy="784.25" r="7.6"/>
<circle cx="765" cy="782.5" r="7.6"/>
<circle cx="741.25" cy="794.5" r="7.6"/>
<circle cx="752.5" cy="791.25" r="7.6"/>
<circle cx="729.5" cy="797.5" r="7.6"/>
<circle cx="777" cy="803.75" r="7.6"/>
<circle cx="753.25" cy="808.75" r="7.6"/>
<circle cx="741.25" cy="811.25" r="7.6"/>
<circle cx="765" cy="818.75" r="7.6"/>
<circle cx="752.5" cy="826.25" r="7.6"/>
<circle cx="729.5" cy="832.5" r="7.6"/>
<circle cx="777" cy="832.5" r="7.6"/>
<circle cx="768.5" cy="861.75" r="7.6"/>
<circle cx="738" cy="866.75" r="7.6"/>
</g>
<g fill="#c8def7" stroke="#000080" stroke-width="3.3">
<circle cx="843" cy="728.75" r="7.6"/>
<circle cx="827" cy="734.5" r="7.6"/>
<circle cx="858.75" cy="738" r="7.6"/>
<circle cx="843" cy="748.75" r="7.6"/>
<circle cx="827" cy="750.5" r="7.6"/>
<circle cx="811.25" cy="764.5" r="7.6"/>
<circle cx="827" cy="778.75" r="7.6"/>
<circle cx="858.75" cy="784.25" r="7.6"/>
<circle cx="811.25" cy="789.25" r="7.6"/>
<circle cx="843" cy="788.75" r="7.6"/>
<circle cx="835" cy="813" r="7.6"/>
<circle cx="858.75" cy="813.25" r="7.6"/>
<circle cx="811.25" cy="822" r="7.6"/>
</g>
<g fill="#fff" stroke="#000" stroke-width="3.2" stroke-linejoin="miter">
<path d="M1020.5 723.7 l9.3 9.3 l-9.3 9.3 l-9.3 -9.3 z"/>
<path d="M998 740.7 l9.3 9.3 l-9.3 9.3 l-9.3 -9.3 z"/>
<path d="M976.25 746.95 l9.3 9.3 l-9.3 9.3 l-9.3 -9.3 z"/>
<path d="M1020.5 745.7 l9.3 9.3 l-9.3 9.3 l-9.3 -9.3 z"/>
<path d="M987 767.7 l9.3 9.3 l-9.3 9.3 l-9.3 -9.3 z"/>
<path d="M1009.25 777.7 l9.3 9.3 l-9.3 9.3 l-9.3 -9.3 z"/>
<path d="M998.25 795.7 l9.3 9.3 l-9.3 9.3 l-9.3 -9.3 z"/>
<path d="M987 801.95 l9.3 9.3 l-9.3 9.3 l-9.3 -9.3 z"/>
<path d="M1020.5 810.7 l9.3 9.3 l-9.3 9.3 l-9.3 -9.3 z"/>
<path d="M976.25 814.45 l9.3 9.3 l-9.3 9.3 l-9.3 -9.3 z"/>
<path d="M998.25 830.7 l9.3 9.3 l-9.3 9.3 l-9.3 -9.3 z"/>
<path d="M987 827.45 l9.3 9.3 l-9.3 9.3 l-9.3 -9.3 z"/>
<path d="M1009.25 825.7 l9.3 9.3 l-9.3 9.3 l-9.3 -9.3 z"/>
<path d="M1009.25 845.2 l9.3 9.3 l-9.3 9.3 l-9.3 -9.3 z"/>
<path d="M987 852.7 l9.3 9.3 l-9.3 9.3 l-9.3 -9.3 z"/>
<path d="M998.25 898.95 l9.3 9.3 l-9.3 9.3 l-9.3 -9.3 z"/>
</g>
<g fill="#c8def7" stroke="#000080" stroke-width="3.2" stroke-linejoin="miter">
<path d="M1080 704.45 l9.3 9.3 l-9.3 9.3 l-9.3 -9.3 z"/>
<path d="M1102 726.2 l9.3 9.3 l-9.3 9.3 l-9.3 -9.3 z"/>
<path d="M1057.5 730.7 l9.3 9.3 l-9.3 9.3 l-9.3 -9.3 z"/>
<path d="M1066.25 750.2 l9.3 9.3 l-9.3 9.3 l-9.3 -9.3 z"/>
<path d="M1075 761.95 l9.3 9.3 l-9.3 9.3 l-9.3 -9.3 z"/>
<path d="M1084.5 756.95 l9.3 9.3 l-9.3 9.3 l-9.3 -9.3 z"/>
<path d="M1093.25 762.7 l9.3 9.3 l-9.3 9.3 l-9.3 -9.3 z"/>
<path d="M1075 781.95 l9.3 9.3 l-9.3 9.3 l-9.3 -9.3 z"/>
<path d="M1066.25 789.45 l9.3 9.3 l-9.3 9.3 l-9.3 -9.3 z"/>
<path d="M1088 788.7 l9.3 9.3 l-9.3 9.3 l-9.3 -9.3 z"/>
<path d="M1057.5 803.95 l9.3 9.3 l-9.3 9.3 l-9.3 -9.3 z"/>
<path d="M1093 802.7 l9.3 9.3 l-9.3 9.3 l-9.3 -9.3 z"/>
<path d="M1102 800.7 l9.3 9.3 l-9.3 9.3 l-9.3 -9.3 z"/>
<path d="M1075 809.45 l9.3 9.3 l-9.3 9.3 l-9.3 -9.3 z"/>
<path d="M1066.25 818.2 l9.3 9.3 l-9.3 9.3 l-9.3 -9.3 z"/>
<path d="M1084.5 816.95 l9.3 9.3 l-9.3 9.3 l-9.3 -9.3 z"/>
<path d="M1093.25 826.95 l9.3 9.3 l-9.3 9.3 l-9.3 -9.3 z"/>
<path d="M1084.5 836.2 l9.3 9.3 l-9.3 9.3 l-9.3 -9.3 z"/>
<path d="M1066.25 843.2 l9.3 9.3 l-9.3 9.3 l-9.3 -9.3 z"/>
</g>
<path d="M753.25 798 V812.5 M737.45 798 H769.05 M737.45 812.5 H769.05" fill="none" stroke="#000" stroke-width="4.5"/>
<path d="M834.75 765 V782.5 M818.95 765 H850.55 M818.95 782.5 H850.55" fill="none" stroke="#000080" stroke-width="4.5"/>
<path d="M998.5 797.5 V819.5 M982.7 797.5 H1014.3 M982.7 819.5 H1014.3" fill="none" stroke="#000" stroke-width="4.5"/>
<path d="M1080.38 784.5 V803.75 M1064.58 784.5 H1096.17 M1064.58 803.75 H1096.17" fill="none" stroke="#000080" stroke-width="4.5"/>
<text x="751.4" y="974" font-size="24.9" fill="#000" text-anchor="middle" font-weight="bold">VEH</text>
<text x="839.1" y="974.5" font-size="24.9" fill="#000080" text-anchor="middle" font-weight="bold">POLY</text>
<text x="997.9" y="979" font-size="24.9" fill="#000" text-anchor="middle" font-weight="bold">VEH</text>
<text x="1081.6" y="979.5" font-size="24.9" fill="#000080" text-anchor="middle" font-weight="bold">POLY</text>
<path d="M707.5 982.25 V995.9 M888.65 982.25 V995.9 M707.5 989.15 H888.65" fill="none" stroke="#000" stroke-width="1.7"/>
<text x="802.33" y="1014.5" font-size="25.45" fill="#000" text-anchor="middle" font-weight="bold">MALE</text>
<path d="M942.5 981 V995.15 M1123.65 981 V995.15 M942.5 988.15 H1123.65" fill="none" stroke="#000" stroke-width="1.7"/>
<text x="1033.08" y="1014.5" font-size="25.45" fill="#000" text-anchor="middle" font-weight="bold">FEMALE</text>
<path d="M747.75 674.25 V701.75 M841 674.25 V701.75 M747.75 688 H841" fill="none" stroke="#000" stroke-width="3.5"/>
<text x="794.7" y="692" font-size="41.7" fill="#000" text-anchor="middle" font-weight="bold">*</text>
<text x="630" y="805.5" font-size="29.5" fill="#000" text-anchor="middle" font-weight="bold" transform="rotate(-90 630 805.5)">bandwidth [kHz]</text>
</g>
<g id="b3">
<path d="M1324.25 950.5 V853.5 H1382.25 V950.5" fill="#fff" stroke="#000" stroke-width="4.5" stroke-linejoin="miter"/>
<path d="M1405.5 950.5 V822.75 H1464 V950.5" fill="#fff" stroke="#000080" stroke-width="4.5" stroke-linejoin="miter"/>
<path d="M1569 950.5 V828.25 H1627 V950.5" fill="#d3d3d3" stroke="#000" stroke-width="4.5" stroke-linejoin="miter"/>
<path d="M1650.25 950.5 V828.75 H1708.5 V950.5" fill="#d3d3d3" stroke="#000080" stroke-width="4.5" stroke-linejoin="miter"/>
<line x1="1290.5" y1="667.9" x2="1290.5" y2="953" stroke="#000" stroke-width="5"/>
<line x1="1276.7" y1="950.5" x2="1713" y2="950.5" stroke="#000" stroke-width="5"/>
<line x1="1276.7" y1="670.4" x2="1290.5" y2="670.4" stroke="#000" stroke-width="5"/>
<text x="1273.8" y="679.85" font-size="25.8" fill="#000" text-anchor="end" font-weight="bold">75</text>
<line x1="1276.7" y1="740.4" x2="1290.5" y2="740.4" stroke="#000" stroke-width="5"/>
<text x="1273.8" y="749.85" font-size="25.8" fill="#000" text-anchor="end" font-weight="bold">70</text>
<line x1="1276.7" y1="810.5" x2="1290.5" y2="810.5" stroke="#000" stroke-width="5"/>
<text x="1273.8" y="819.95" font-size="25.8" fill="#000" text-anchor="end" font-weight="bold">65</text>
<line x1="1276.7" y1="880.5" x2="1290.5" y2="880.5" stroke="#000" stroke-width="5"/>
<text x="1273.8" y="889.95" font-size="25.8" fill="#000" text-anchor="end" font-weight="bold">60</text>
<text x="1273.8" y="959.95" font-size="25.8" fill="#000" text-anchor="end" font-weight="bold">55</text>
<g fill="#fff" stroke="#000" stroke-width="3.3">
<circle cx="1338" cy="785.75" r="7.6"/>
<circle cx="1368.25" cy="791.25" r="7.6"/>
<circle cx="1338" cy="806.25" r="7.6"/>
<circle cx="1338.75" cy="827.5" r="7.6"/>
<circle cx="1358" cy="836.25" r="7.6"/>
<circle cx="1376.75" cy="838.25" r="7.6"/>
<circle cx="1348" cy="842.5" r="7.6"/>
<circle cx="1329.25" cy="847.5" r="7.6"/>
<circle cx="1358" cy="853.75" r="7.6"/>
<circle cx="1338.75" cy="851.25" r="7.6"/>
<circle cx="1376.75" cy="856.25" r="7.6"/>
<circle cx="1348" cy="857" r="7.6"/>
<circle cx="1329.25" cy="862" r="7.6"/>
<circle cx="1367" cy="866.25" r="7.6"/>
<circle cx="1368.25" cy="885.25" r="7.6"/>
<circle cx="1338" cy="891" r="7.6"/>
<circle cx="1368.25" cy="905.25" r="7.6"/>
<circle cx="1338" cy="913.25" r="7.6"/>
</g>
<g fill="#c8def7" stroke="#000080" stroke-width="3.3">
<circle cx="1450" cy="745.5" r="7.6"/>
<circle cx="1419.5" cy="753.75" r="7.6"/>
<circle cx="1434.5" cy="793" r="7.6"/>
<circle cx="1458.75" cy="813" r="7.6"/>
<circle cx="1434.5" cy="826.25" r="7.6"/>
<circle cx="1422.5" cy="822" r="7.6"/>
<circle cx="1446.25" cy="822.5" r="7.6"/>
<circle cx="1410.5" cy="830.5" r="7.6"/>
<circle cx="1458.75" cy="832.5" r="7.6"/>
<circle cx="1410.5" cy="848" r="7.6"/>
<circle cx="1434.5" cy="852" r="7.6"/>
<circle cx="1458.75" cy="853" r="7.6"/>
<circle cx="1411.25" cy="866.25" r="7.6"/>
</g>
<g fill="#fff" stroke="#000" stroke-width="3.2" stroke-linejoin="miter">
<path d="M1598 719.45 l9.3 9.3 l-9.3 9.3 l-9.3 -9.3 z"/>
<path d="M1598 745.7 l9.3 9.3 l-9.3 9.3 l-9.3 -9.3 z"/>
<path d="M1584.5 774.95 l9.3 9.3 l-9.3 9.3 l-9.3 -9.3 z"/>
<path d="M1611.25 775.7 l9.3 9.3 l-9.3 9.3 l-9.3 -9.3 z"/>
<path d="M1602.5 787.7 l9.3 9.3 l-9.3 9.3 l-9.3 -9.3 z"/>
<path d="M1593.75 801.95 l9.3 9.3 l-9.3 9.3 l-9.3 -9.3 z"/>
<path d="M1584.5 821.95 l9.3 9.3 l-9.3 9.3 l-9.3 -9.3 z"/>
<path d="M1611.25 818.2 l9.3 9.3 l-9.3 9.3 l-9.3 -9.3 z"/>
<path d="M1593.25 833.2 l9.3 9.3 l-9.3 9.3 l-9.3 -9.3 z"/>
<path d="M1620 831.95 l9.3 9.3 l-9.3 9.3 l-9.3 -9.3 z"/>
<path d="M1575.75 834.95 l9.3 9.3 l-9.3 9.3 l-9.3 -9.3 z"/>
<path d="M1611.25 844.95 l9.3 9.3 l-9.3 9.3 l-9.3 -9.3 z"/>
<path d="M1620 910.2 l9.3 9.3 l-9.3 9.3 l-9.3 -9.3 z"/>
<path d="M1575.75 922.45 l9.3 9.3 l-9.3 9.3 l-9.3 -9.3 z"/>
</g>
<g fill="#c8def7" stroke="#000080" stroke-width="3.2" stroke-linejoin="miter">
<path d="M1701.75 728.2 l9.3 9.3 l-9.3 9.3 l-9.3 -9.3 z"/>
<path d="M1657.5 733.95 l9.3 9.3 l-9.3 9.3 l-9.3 -9.3 z"/>
<path d="M1683.75 756.95 l9.3 9.3 l-9.3 9.3 l-9.3 -9.3 z"/>
<path d="M1675 766.95 l9.3 9.3 l-9.3 9.3 l-9.3 -9.3 z"/>
<path d="M1683.75 779.95 l9.3 9.3 l-9.3 9.3 l-9.3 -9.3 z"/>
<path d="M1675 796.2 l9.3 9.3 l-9.3 9.3 l-9.3 -9.3 z"/>
<path d="M1683.75 808.2 l9.3 9.3 l-9.3 9.3 l-9.3 -9.3 z"/>
<path d="M1657.5 818.95 l9.3 9.3 l-9.3 9.3 l-9.3 -9.3 z"/>
<path d="M1690 820.7 l9.3 9.3 l-9.3 9.3 l-9.3 -9.3 z"/>
<path d="M1701.75 818.2 l9.3 9.3 l-9.3 9.3 l-9.3 -9.3 z"/>
<path d="M1675 816.95 l9.3 9.3 l-9.3 9.3 l-9.3 -9.3 z"/>
<path d="M1666.25 829.45 l9.3 9.3 l-9.3 9.3 l-9.3 -9.3 z"/>
<path d="M1693.75 851.45 l9.3 9.3 l-9.3 9.3 l-9.3 -9.3 z"/>
<path d="M1675 841.45 l9.3 9.3 l-9.3 9.3 l-9.3 -9.3 z"/>
<path d="M1683.75 852.45 l9.3 9.3 l-9.3 9.3 l-9.3 -9.3 z"/>
<path d="M1666.25 859.95 l9.3 9.3 l-9.3 9.3 l-9.3 -9.3 z"/>
<path d="M1679.5 890.2 l9.3 9.3 l-9.3 9.3 l-9.3 -9.3 z"/>
<path d="M1679.5 933.7 l9.3 9.3 l-9.3 9.3 l-9.3 -9.3 z"/>
</g>
<path d="M1353.25 843 V857.75 M1337.45 843 H1369.05 M1337.45 857.75 H1369.05" fill="none" stroke="#000" stroke-width="4.5"/>
<path d="M1434.75 809.5 V831.5 M1418.95 809.5 H1450.55 M1418.95 831.5 H1450.55" fill="none" stroke="#000080" stroke-width="4.5"/>
<path d="M1598 811.75 V839.5 M1582.2 811.75 H1613.8 M1582.2 839.5 H1613.8" fill="none" stroke="#000" stroke-width="4.5"/>
<path d="M1679.38 814.25 V838.75 M1663.58 814.25 H1695.17 M1663.58 838.75 H1695.17" fill="none" stroke="#000080" stroke-width="4.5"/>
<text x="1351.5" y="975.25" font-size="24.9" fill="#000" text-anchor="middle" font-weight="bold">VEH</text>
<text x="1438.1" y="976.5" font-size="24.9" fill="#000080" text-anchor="middle" font-weight="bold">POLY</text>
<text x="1597.5" y="980.25" font-size="24.9" fill="#000" text-anchor="middle" font-weight="bold">VEH</text>
<text x="1680.6" y="981.5" font-size="24.9" fill="#000080" text-anchor="middle" font-weight="bold">POLY</text>
<path d="M1304.25 982.25 V995.9 M1485.4 982.25 V995.9 M1304.25 989.15 H1485.4" fill="none" stroke="#000" stroke-width="1.7"/>
<text x="1402.08" y="1016.5" font-size="25.45" fill="#000" text-anchor="middle" font-weight="bold">MALE</text>
<path d="M1542 983 V996.9 M1722.9 983 V996.9 M1542 989.9 H1722.9" fill="none" stroke="#000" stroke-width="1.7"/>
<text x="1632.45" y="1016.5" font-size="25.45" fill="#000" text-anchor="middle" font-weight="bold">FEMALE</text>
<path d="M1348.25 688.75 V715.75 M1441 688.75 V715.75 M1348.25 702 H1441" fill="none" stroke="#000" stroke-width="3.5"/>
<text x="1393.1" y="690.75" font-size="24.5" fill="#000" text-anchor="middle" font-weight="normal" font-style="italic">0.06</text>
<text x="1231.25" y="808" font-size="29.5" fill="#000" text-anchor="middle" font-weight="bold" transform="rotate(-90 1231.25 808)">peak frequency [kHz]</text>
</g>
</svg>
</body></html>
